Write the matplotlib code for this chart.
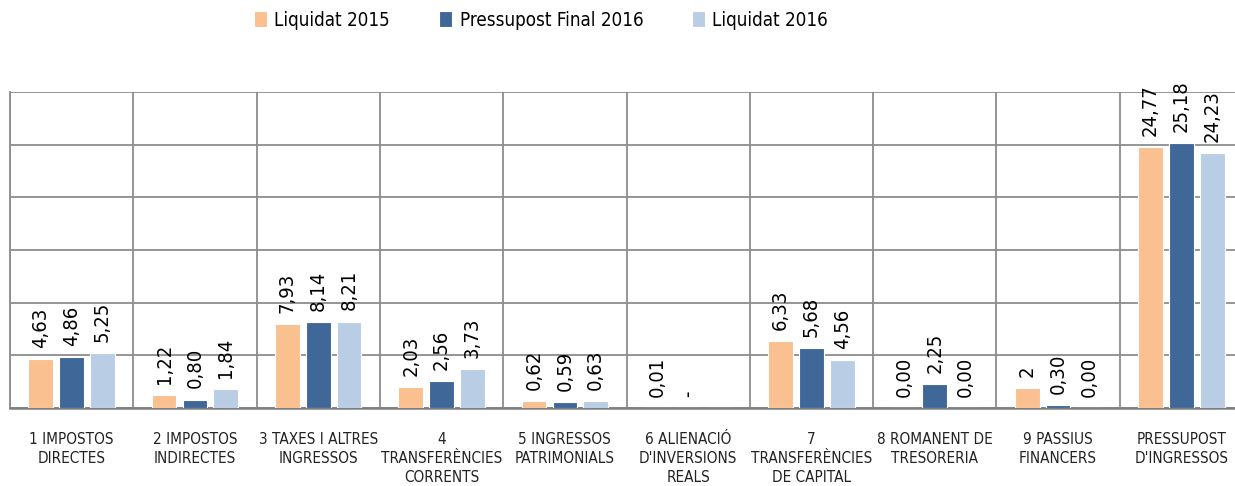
import matplotlib
matplotlib.use("Agg")
import matplotlib.pyplot as plt
import numpy as np
from matplotlib.font_manager import fontManager

# Data
categories = [
    "1 IMPOSTOS\nDIRECTES",
    "2 IMPOSTOS\nINDIRECTES",
    "3 TAXES I ALTRES\nINGRESSOS",
    "4\nTRANSFERÈNCIES\nCORRENTS",
    "5 INGRESSOS\nPATRIMONIALS",
    "6 ALIENACIÓ\nD'INVERSIONS\nREALS",
    "7\nTRANSFERÈNCIES\nDE CAPITAL",
    "8 ROMANENT DE\nTRESORERIA",
    "9 PASSIUS\nFINANCERS",
    "PRESSUPOST\nD'INGRESSOS",
]
series_names = ["Liquidat 2015", "Pressupost Final 2016", "Liquidat 2016"]
liquidat_2015 = [4.63, 1.22, 7.93, 2.03, 0.62, 0.01, 6.33, 0.00, 1.9, 24.77]
pressupost_2016 = [4.86, 0.80, 8.14, 2.56, 0.59, 0.00, 5.68, 2.25, 0.30, 25.18]
liquidat_2016 = [5.25, 1.84, 8.21, 3.73, 0.63, 0.00, 4.56, 0.00, 0.00, 24.23]
labels_2015 = ["4,63", "1,22", "7,93", "2,03", "0,62", "0,01", "6,33", "0,00", "2", "24,77"]
labels_p2016 = ["4,86", "0,80", "8,14", "2,56", "0,59", "-", "5,68", "2,25", "0,30", "25,18"]
labels_2016 = ["5,25", "1,84", "8,21", "3,73", "0,63", "", "4,56", "0,00", "0,00", "24,23"]

colors = ["#FAC090", "#3F6898", "#B9CDE5"]

# pick a narrow font if one is installed
narrow = None
for f in fontManager.ttflist:
    if "LiberationSansNarrow-Regular" in f.fname or "LiberationSansNarrow.ttf" in f.fname:
        narrow = (f.name, "normal")
        break
if narrow is None:
    for f in fontManager.ttflist:
        if "DejaVuSansCondensed.ttf" in f.fname:
            narrow = (f.name, "condensed")
            break
if narrow is None:
    narrow = ("Lato", "normal")
plt.rcParams["font.family"] = [narrow[0], "DejaVu Sans"]
plt.rcParams["font.stretch"] = narrow[1]

fig = plt.figure(figsize=(12.35, 4.86), dpi=100)
ax = fig.add_axes([10 / 1235, 78 / 486, 1233 / 1235, 316 / 486])

x = np.arange(len(categories))
width = 0.2
offsets = [-0.25, 0, 0.25]
all_vals = [liquidat_2015, pressupost_2016, liquidat_2016]
all_labels = [labels_2015, labels_p2016, labels_2016]

for vals, labs, off, col, name in zip(all_vals, all_labels, offsets, colors, series_names):
    ax.bar(x + off, vals, width, color=col, edgecolor="white", linewidth=0.8,
           label=name, zorder=3)
    for xi, v, lab in zip(x, vals, labs):
        if lab:
            ax.annotate(lab, (xi + off, v), xytext=(0, 8), textcoords="offset points",
                        rotation=90, ha="center", va="bottom", fontsize=14.5,
                        color="black", zorder=4)

ax.set_xlim(-0.5, len(categories) - 0.5)
ax.set_ylim(0, 30)
ax.set_yticks(np.arange(0, 31, 5))
ax.set_yticklabels([])
ax.set_xticks(x)
ax.set_xticklabels(categories, fontsize=11, linespacing=1.35, va="top", color="#222222")
ax.set_xticks(np.arange(-0.5, len(categories), 1), minor=True)
ax.tick_params(axis="both", which="both", length=0)
ax.tick_params(axis="x", pad=17)
ax.grid(axis="y", which="major", color="#8c8c8c", linewidth=1.3, zorder=0)
ax.grid(axis="x", which="minor", color="#8c8c8c", linewidth=1.3, zorder=0)
ax.set_axisbelow(True)
for s in ["top", "right"]:
    ax.spines[s].set_visible(False)
ax.spines["left"].set_color("#8c8c8c")
ax.spines["left"].set_linewidth(1.3)
ax.spines["bottom"].set_color("#7f7f7f")
ax.spines["bottom"].set_linewidth(1.8)

handles, lbls = ax.get_legend_handles_labels()
fig.legend(handles, lbls, loc="center", bbox_to_anchor=(541 / 1235, 1 - 20 / 486),
           ncol=3, frameon=False, fontsize=13.5, handlelength=0.7, handleheight=0.9,
           handletextpad=0.4, columnspacing=2.6)

fig.savefig("out.png", dpi=100)
